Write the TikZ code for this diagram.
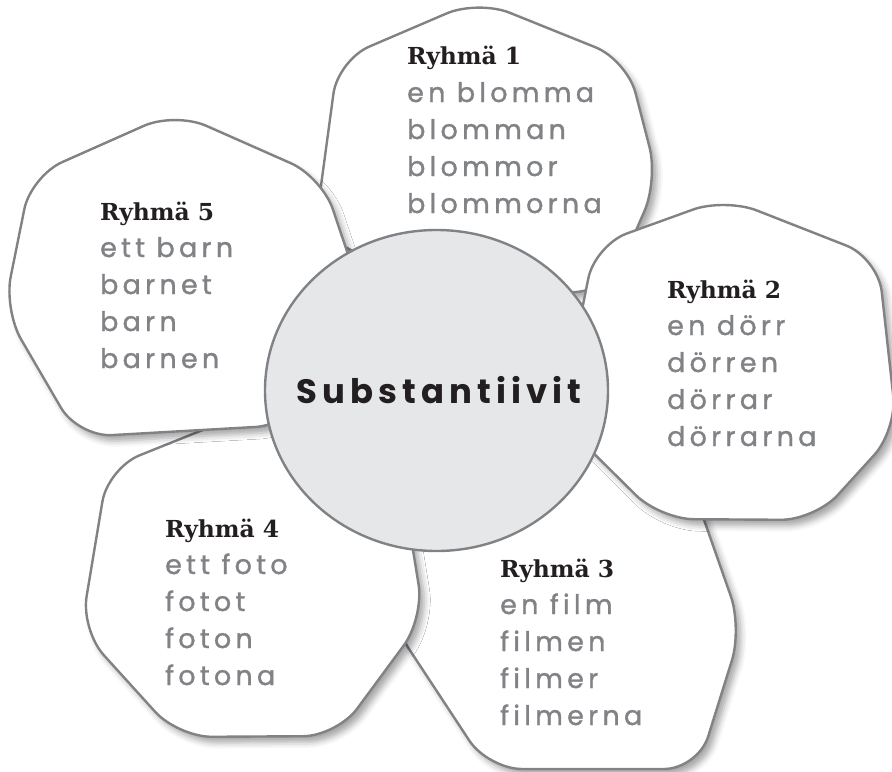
\documentclass[tikz,border=0pt]{standalone}
\usepackage{fontspec}
\newfontfamily\headfont{DejaVu Serif}
\newfontfamily\handfont[LetterSpace=15,Ligatures=NoCommon]{Poppins}
\newfontfamily\wordfont[LetterSpace=16,Ligatures=NoCommon,FakeBold=1.2]{Poppins}
\usetikzlibrary{shadows.blur}
\definecolor{edgegray}{RGB}{128,130,133}
\definecolor{hubfill}{RGB}{230,231,232}
\definecolor{wordgray}{RGB}{128,130,133}
\definecolor{headblack}{RGB}{35,31,32}
\tikzset{
  petal/.style={draw=edgegray,line width=2.4bp,fill=white,rounded corners=34bp,line join=round,
    blur shadow={shadow xshift=5bp,shadow yshift=-6bp,shadow blur radius=6bp,shadow opacity=35}},
  hubring/.style={draw=edgegray,line width=2.4bp,fill=hubfill},
  hub/.style={inner sep=0pt,text=headblack,font=\handfont\bfseries\fontsize{34}{40}\selectfont},
  heading/.style={anchor=base west,inner sep=0pt,text=headblack,font=\headfont\bfseries\fontsize{23.5}{26}\selectfont},
  word/.style={anchor=base west,inner sep=0pt,text=wordgray,font=\wordfont\fontsize{27}{30}\selectfont}
}
\begin{document}
\begin{tikzpicture}[x=1bp,y=-1bp]
  \useasboundingbox (0,0) rectangle (892,772);
  % petals, back to front
  \draw[petal] (478,0) -- (627,60) -- (658,180) -- (610,290) -- (440,300) -- (315,230) -- (338,60) -- cycle;
  \draw[petal] (488,769) -- (698,769) -- (742,628) -- (690,480) -- (560,440) -- (415,500) -- (390,620) -- cycle;
  \draw[petal] (725,198) -- (878,258) -- (897,430) -- (815,520) -- (660,519) -- (560,420) -- (595,245) -- cycle;
  \draw[petal] (108,468) -- (81,630) -- (178,737) -- (337,736) -- (424,618) -- (400,470) -- (240,415) -- cycle;
  \draw[petal] (31,176) -- (175,112) -- (322,177) -- (360,290) -- (290,425) -- (78,437) -- (4,310) -- cycle;
  % centre
  \draw[hubring] (436.5,390.5) ellipse [x radius=171.5,y radius=160.5];
  \node[hub] (hub) at (439,390) {Substantiivit};
  % groups
  \foreach \n/\x/\y/\a/\b/\c/\d in {
      1/407/65/en blomma/blomman/blommor/blommorna,
      2/667/298/en dörr/dörren/dörrar/dörrarna,
      3/500/577/en film/filmen/filmer/filmerna,
      4/165/537/ett foto/fotot/foton/fotona,
      5/100/220/ett barn/barnet/barn/barnen}{
    \node[heading] (head\n) at (\x,\y) {Ryhmä \n};
    \node[word] (form\n-1) at (\x,\y+37) {\a};
    \node[word] (form\n-2) at (\x,\y+74) {\b};
    \node[word] (form\n-3) at (\x,\y+111) {\c};
    \node[word] (form\n-4) at (\x,\y+148) {\d};
  }
\end{tikzpicture}
\end{document}
